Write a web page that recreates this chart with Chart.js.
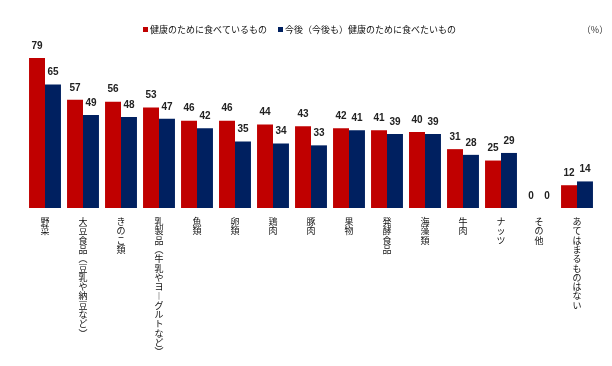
<!DOCTYPE html>
<html>
<head>
  <meta charset="utf-8">
  <title>健康のために食べているもの</title>
  <script src="https://cdn.jsdelivr.net/npm/chart.js@4/dist/chart.umd.min.js"></script>
  <style>
    html, body { margin: 0; padding: 0; background: #fff; }
    #wrap { width: 612px; height: 366px; }
  </style>
</head>
<body>
<div id="wrap"><canvas id="myChart" width="612" height="366"></canvas></div>
<script>
  // categories and values (%)
  const categories = [
    '野菜', '大豆食品（豆乳や納豆など）', 'きのこ類', '乳製品（牛乳やヨーグルトなど）',
    '魚類', '卵類', '鶏肉', '豚肉', '果物', '発酵食品', '海藻類', '牛肉', 'ナッツ', 'その他',
    'あてはまるものはない'
  ];
  const seriesNames = ['健康のために食べているもの', '今後（今後も）健康のために食べたいもの'];
  const seriesColors = ['#C00000', '#002060'];
  const eatingNow = [79, 57, 56, 53, 46, 46, 44, 43, 42, 41, 40, 31, 25, 0, 12];
  const wantToEat = [65, 49, 48, 47, 42, 35, 34, 33, 41, 39, 39, 28, 29, 0, 14];

  // vertical text: one character per line, vertical forms for brackets and long vowel
  const verticalForms = { '（': '︵', '）': '︶', 'ー': '︱' };
  function toVertical(s) {
    return Array.from(s).map(c => verticalForms[c] || c);
  }

  const jpFont = '"Noto Sans CJK JP", sans-serif';

  // value labels, legend and unit drawn by hand
  const extras = {
    id: 'extras',
    afterDatasetsDraw(chart) {
      const ctx = chart.ctx;
      ctx.save();
      ctx.font = 'bold 10px "Liberation Sans", Arial, sans-serif';
      ctx.fillStyle = '#222';
      ctx.textAlign = 'center';
      ctx.textBaseline = 'middle';
      chart.data.datasets.forEach((ds, i) => {
        chart.getDatasetMeta(i).data.forEach((bar, j) => {
          ctx.fillText(ds.data[j], bar.x, bar.y - 12);
        });
      });

      // legend
      ctx.font = '9px ' + jpFont;
      ctx.textAlign = 'left';
      let x = 143;
      seriesNames.forEach((name, i) => {
        ctx.fillStyle = seriesColors[i];
        ctx.fillRect(x, 27, 5, 5);
        ctx.fillStyle = '#111';
        ctx.fillText(name, x + 7, 29.5);
        x += 7 + ctx.measureText(name).width + 11;
      });

      // unit
      ctx.textAlign = 'center';
      ctx.fillStyle = '#333';
      ctx.fillText('（%）', 595, 29.5);
      ctx.restore();
    }
  };

  new Chart(document.getElementById('myChart'), {
    type: 'bar',
    data: {
      labels: categories.map(toVertical),
      datasets: [
        { label: seriesNames[0], data: eatingNow, backgroundColor: seriesColors[0] },
        { label: seriesNames[1], data: wantToEat, backgroundColor: seriesColors[1] }
      ]
    },
    options: {
      responsive: false,
      animation: false,
      layout: { padding: { left: 26, right: 16, top: 40, bottom: 4 } },
      datasets: { bar: { categoryPercentage: 0.84, barPercentage: 1.0 } },
      plugins: {
        legend: { display: false },
        tooltip: { enabled: false }
      },
      scales: {
        x: {
          grid: { display: false, drawTicks: false },
          border: { display: false },
          afterFit(scale) { scale.height = 154; },
          ticks: {
            autoSkip: false,
            maxRotation: 0,
            minRotation: 0,
            padding: 9,
            color: '#111',
            font: { size: 9, lineHeight: '9.3px', family: jpFont }
          }
        },
        y: { display: false, min: 0, max: 88.5 }
      }
    },
    plugins: [extras]
  });
</script>
</body>
</html>
